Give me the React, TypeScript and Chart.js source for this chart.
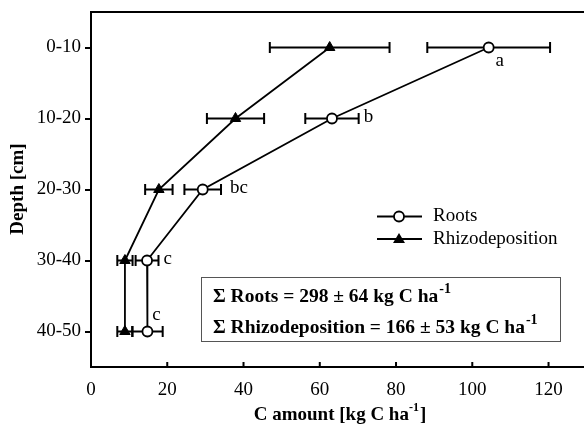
import React, { useEffect, useRef } from "react";
import { Chart, registerables } from "chart.js";

Chart.register(...registerables);

const depthLabels = ["0-10", "10-20", "20-30", "30-40", "40-50"];
const rootsMean = [104.3, 63.2, 29.3, 14.7, 14.8];
const rootsErr = [16.1, 7.0, 4.8, 3.0, 4.0];
const rhizoMean = [62.6, 37.9, 17.8, 8.9, 8.9];
const rhizoErr = [15.7, 7.5, 3.6, 2.0, 2.0];
const rootsLetters = ["a", "b", "bc", "c", "c"];
const xTicks = [0, 20, 40, 60, 80, 100, 120];

const SERIF = "'Liberation Serif', 'Times New Roman', serif";

export default function App() {
  const ref = useRef<HTMLCanvasElement | null>(null);

  useEffect(() => {
    const canvas = ref.current;
    if (!canvas) return;

    const errPlugin = {
      id: "errbars",
      beforeDatasetsDraw(chart: any) {
        const ctx = chart.ctx;
        const xs = chart.scales.x;
        const ys = chart.scales.y;
        const sets = [
          { m: rootsMean, e: rootsErr },
          { m: rhizoMean, e: rhizoErr },
        ];
        ctx.save();
        ctx.strokeStyle = "#000";
        ctx.lineWidth = 2;
        sets.forEach((s) => {
          s.m.forEach((v, i) => {
            const y = ys.getPixelForValue(i);
            const x1 = xs.getPixelForValue(v - s.e[i]);
            const x2 = xs.getPixelForValue(v + s.e[i]);
            ctx.beginPath();
            ctx.moveTo(x1, y);
            ctx.lineTo(x2, y);
            ctx.moveTo(x1, y - 5.5);
            ctx.lineTo(x1, y + 5.5);
            ctx.moveTo(x2, y - 5.5);
            ctx.lineTo(x2, y + 5.5);
            ctx.stroke();
          });
        });
        ctx.restore();
      },
      afterDraw(chart: any) {
        const ctx = chart.ctx;
        const xs = chart.scales.x;
        const ys = chart.scales.y;
        const area = chart.chartArea;
        ctx.save();
        // top frame line
        ctx.strokeStyle = "#000";
        ctx.lineWidth = 2;
        ctx.beginPath();
        ctx.moveTo(area.left - 1, area.top);
        ctx.lineTo(area.right, area.top);
        ctx.stroke();
        // inward x ticks
        ctx.beginPath();
        xTicks.forEach((t) => {
          if (t === 0) return;
          const x = xs.getPixelForValue(t);
          ctx.moveTo(x, area.bottom);
          ctx.lineTo(x, area.bottom - 5);
        });
        ctx.stroke();

        // letters
        ctx.fillStyle = "#000";
        ctx.font = `19px ${SERIF}`;
        ctx.textBaseline = "middle";
        const placement = ["below", "right", "right", "right", "above"];
        rootsLetters.forEach((l, i) => {
          const y = ys.getPixelForValue(i);
          const xc = xs.getPixelForValue(rootsMean[i]);
          const xr = xs.getPixelForValue(rootsMean[i] + rootsErr[i]);
          const p = placement[i];
          if (p === "below") {
            ctx.textAlign = "center";
            ctx.fillText(l, xc + 11, y + 14);
          } else if (p === "above") {
            ctx.textAlign = "center";
            ctx.fillText(l, xc + 9, y - 16);
          } else {
            ctx.textAlign = "left";
            ctx.fillText(l, xr + (i === 2 ? 9 : 5), y - 1);
          }
        });

        // legend
        const lx = 377;
        const items = [
          { label: "Roots", y: 216.5, style: "circle" },
          { label: "Rhizodeposition", y: 239, style: "triangle" },
        ];
        items.forEach((it) => {
          ctx.strokeStyle = "#000";
          ctx.lineWidth = 1.8;
          ctx.beginPath();
          ctx.moveTo(lx, it.y);
          ctx.lineTo(lx + 45, it.y);
          ctx.stroke();
          const cx = lx + 22;
          if (it.style === "circle") {
            ctx.fillStyle = "#fff";
            ctx.beginPath();
            ctx.arc(cx, it.y, 5, 0, Math.PI * 2);
            ctx.fill();
            ctx.stroke();
          } else {
            ctx.fillStyle = "#000";
            ctx.beginPath();
            ctx.moveTo(cx, it.y - 6);
            ctx.lineTo(cx + 6, it.y + 4);
            ctx.lineTo(cx - 6, it.y + 4);
            ctx.closePath();
            ctx.fill();
          }
          ctx.fillStyle = "#000";
          ctx.font = `19px ${SERIF}`;
          ctx.textAlign = "left";
          ctx.textBaseline = "middle";
          ctx.fillText(it.label, lx + 56, it.y);
        });

        // sum box
        ctx.strokeStyle = "#555";
        ctx.lineWidth = 1;
        ctx.strokeRect(201.5, 277.5, 359, 64);
        const boxLines = [
          { t: "\u03A3 Roots = 298 \u00B1 64 kg C ha", y: 302 },
          { t: "\u03A3 Rhizodeposition = 166 \u00B1 53 kg C ha", y: 333 },
        ];
        ctx.fillStyle = "#000";
        ctx.textBaseline = "alphabetic";
        ctx.textAlign = "left";
        boxLines.forEach((b) => {
          ctx.font = `bold 19.5px ${SERIF}`;
          ctx.fillText(b.t, 213, b.y);
          const w = ctx.measureText(b.t).width;
          ctx.font = `bold 14px ${SERIF}`;
          ctx.fillText("-1", 213 + w + 1, b.y - 9);
        });

        // x title
        ctx.font = `bold 19px ${SERIF}`;
        const t1 = "C amount [kg C ha";
        const w1 = ctx.measureText(t1).width;
        ctx.font = `bold 12px ${SERIF}`;
        const w2 = ctx.measureText("-1").width;
        ctx.font = `bold 19px ${SERIF}`;
        const w3 = ctx.measureText("]").width;
        const total = w1 + w2 + w3 + 1;
        const sx = 340 - total / 2;
        ctx.fillText(t1, sx, 420);
        ctx.font = `bold 12px ${SERIF}`;
        ctx.fillText("-1", sx + w1, 411);
        ctx.font = `bold 19px ${SERIF}`;
        ctx.fillText("]", sx + w1 + w2 + 1, 420);

        // y title
        ctx.save();
        ctx.translate(18, 189);
        ctx.rotate(-Math.PI / 2);
        ctx.textAlign = "center";
        ctx.textBaseline = "middle";
        ctx.font = `bold 19px ${SERIF}`;
        ctx.fillText("Depth [cm]", 0, 0);
        ctx.restore();

        ctx.restore();
      },
    };

    const chart = new Chart(canvas, {
      type: "line",
      data: {
        datasets: [
          {
            label: "Roots",
            data: rootsMean.map((v, i) => ({ x: v, y: i })),
            borderColor: "#000",
            borderWidth: 1.8,
            pointStyle: "circle",
            pointRadius: 5,
            pointBackgroundColor: "#fff",
            pointBorderColor: "#000",
            pointBorderWidth: 1.8,
            tension: 0,
          },
          {
            label: "Rhizodeposition",
            data: rhizoMean.map((v, i) => ({ x: v, y: i })),
            borderColor: "#000",
            borderWidth: 1.8,
            pointStyle: "triangle",
            pointRadius: 6,
            pointBackgroundColor: "#000",
            pointBorderColor: "#000",
            pointBorderWidth: 1,
            tension: 0,
          },
        ],
      },
      options: {
        animation: false,
        responsive: false,
        maintainAspectRatio: false,
        devicePixelRatio: 1,
        layout: { autoPadding: false, padding: { top: 12, right: 0, left: 0, bottom: 0 } },
        plugins: {
          legend: { display: false },
          tooltip: { enabled: false },
          title: { display: false },
        },
        scales: {
          x: {
            type: "linear",
            min: 0,
            max: 129.3,
            afterBuildTicks: (s: any) => {
              s.ticks = xTicks.map((v) => ({ value: v }));
            },
            afterFit: (s: any) => {
              s.height = 58;
              s.paddingLeft = 0;
              s.paddingRight = 0;
            },
            grid: { display: false, drawTicks: false },
            border: { display: true, color: "#000", width: 2 },
            ticks: {
              color: "#000",
              font: { family: SERIF, size: 19 },
              padding: 12,
              maxRotation: 0,
              autoSkip: false,
            },
          },
          y: {
            type: "linear",
            min: -0.5,
            max: 4.5,
            reverse: true,
            afterBuildTicks: (s: any) => {
              s.ticks = depthLabels.map((_, i) => ({ value: i }));
            },
            afterFit: (s: any) => {
              s.width = 91;
              s.paddingTop = 0;
              s.paddingBottom = 0;
            },
            grid: {
              drawOnChartArea: false,
              drawTicks: true,
              tickLength: 6,
              color: "#000",
              lineWidth: 2,
            },
            border: { display: true, color: "#000", width: 2 },
            ticks: {
              color: "#000",
              font: { family: SERIF, size: 19 },
              padding: 4,
              autoSkip: false,
              callback: (v: any) => depthLabels[v as number] ?? "",
            },
          },
        },
      },
      plugins: [errPlugin],
    });

    return () => chart.destroy();
  }, []);

  return (
    <div style={{ position: "absolute", left: 0, top: 0, width: 584, height: 425, background: "#fff" }}>
      <canvas ref={ref} width={584} height={425} style={{ display: "block" }} />
    </div>
  );
}
